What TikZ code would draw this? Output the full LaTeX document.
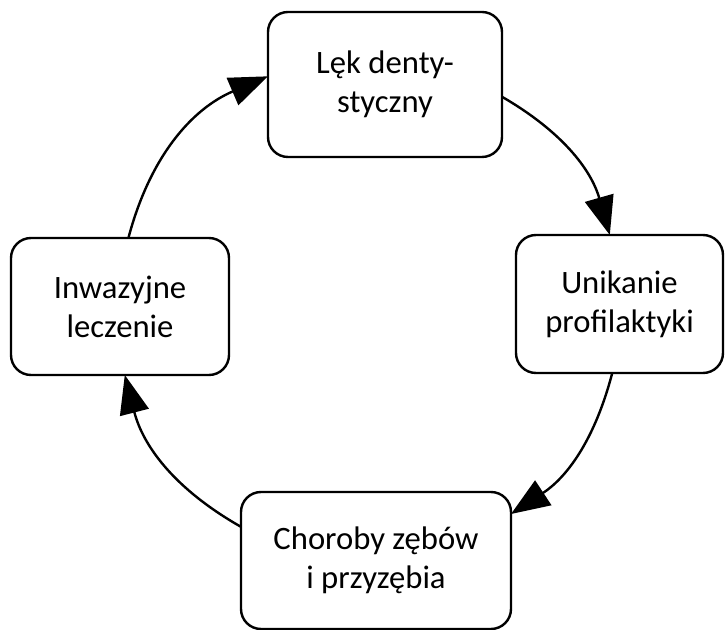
\documentclass[tikz,border=0pt]{standalone}
\usepackage{fontspec}
\setmainfont{Carlito}
\usetikzlibrary{arrows.meta}
\begin{document}
\begin{tikzpicture}[x=0.75pt,y=-0.75pt,
  box/.style={draw=black,line width=1.8pt,rounded corners=15pt,fill=white,
    inner sep=0pt,outer sep=0pt,align=center,
    font=\fontsize{24.5}{29.3}\selectfont},
  flow/.style={line width=1.8pt,-{Triangle[length=29pt,width=22pt]}}]
\useasboundingbox (0,0) rectangle (726,630);

\node[box,minimum width=175.5pt,minimum height=108.75pt] (lek) at (385,84.5) {Lęk denty-\\styczny};
\node[box,minimum width=155.25pt,minimum height=103.5pt] (unik) at (619.5,304) {Unikanie\\profilaktyki};
\node[box,minimum width=202.5pt,minimum height=102.75pt] (chor) at (376,560.5) {Choroby zębów\\i przyzębia};
\node[box,minimum width=163.5pt,minimum height=102.75pt] (inw) at (120,306.5) {Inwazyjne\\leczenie};

\draw[flow] (lek.-6.6) to[bend left=22] (unik.98);
\draw[flow] (unik.-96) to[bend left=21] (chor.19);
\draw[flow] (chor.166) to[bend left=23] (inw.-86);
\draw[flow] (inw.83) to[bend left=26] (lek.176);
\end{tikzpicture}
\end{document}
